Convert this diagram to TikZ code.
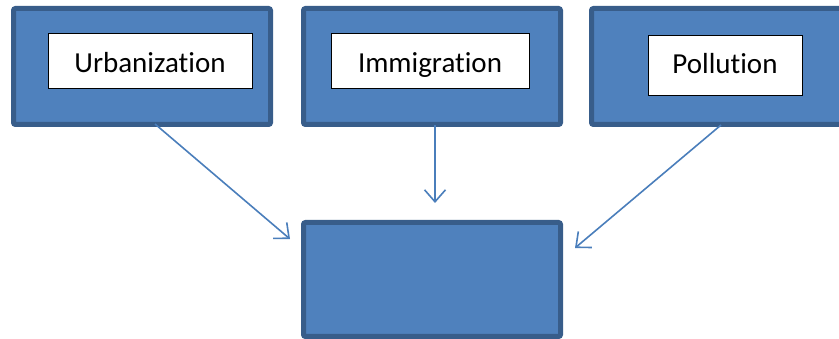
\documentclass[tikz,border=0pt]{standalone}
\usepackage{fontspec}
\setmainfont[Ligatures=NoCommon]{Carlito}
\usetikzlibrary{arrows.meta}
\definecolor{boxfill}{HTML}{4F81BD}
\definecolor{boxline}{HTML}{385D8A}
\definecolor{arrowc}{HTML}{4A7EBB}
\begin{document}
\begin{tikzpicture}[x=1pt,y=-1pt,
  bluebox/.style={draw=boxline, fill=boxfill, line width=5pt, rounded corners=2pt, inner sep=0pt},
  whitebox/.style={draw=black, fill=white, line width=0.9pt, inner sep=0pt},
  label/.style={inner sep=0pt, font=\fontsize{29}{34}\selectfont},
  arr/.style={draw=arrowc, line width=1.6pt, -{Straight Barb[length=12pt,width=21pt,line width=1.6pt]}}]
\useasboundingbox (0,0) rectangle (839,339);
\clip (0,0) rectangle (839,339);
\node[bluebox, minimum width=257pt, minimum height=116pt] (b1) at (142,66.5) {};
\node[bluebox, minimum width=257pt, minimum height=116pt] (b2) at (432,66.5) {};
\node[bluebox, minimum width=257pt, minimum height=116pt] (b3) at (720,66.5) {};
\node[bluebox, minimum width=257pt, minimum height=114pt] (bot) at (432,279.5) {};
\node[whitebox, minimum width=204pt, minimum height=55pt] (u) at (150,60.5) {};
\node[whitebox, minimum width=198pt, minimum height=55pt] (i) at (430,60.5) {};
\node[whitebox, minimum width=154pt, minimum height=60pt] (p) at (725,65) {};
\node[label, anchor=base] (ut) at (150,73) {Urbanization};
\node[label, anchor=base] (it) at (430,73) {Immigration};
\node[label, anchor=base] (pt) at (725,74) {Pollution};
\coordinate (s1) at (155,124);
\coordinate (e1) at (290,239);
\coordinate (s2) at (435,125);
\coordinate (e2) at (435,203);
\coordinate (s3) at (721,125);
\coordinate (e3) at (575,248);
\draw[arr] (s1) -- (e1);
\draw[arr] (s2) -- (e2);
\draw[arr] (s3) -- (e3);
\end{tikzpicture}
\end{document}
